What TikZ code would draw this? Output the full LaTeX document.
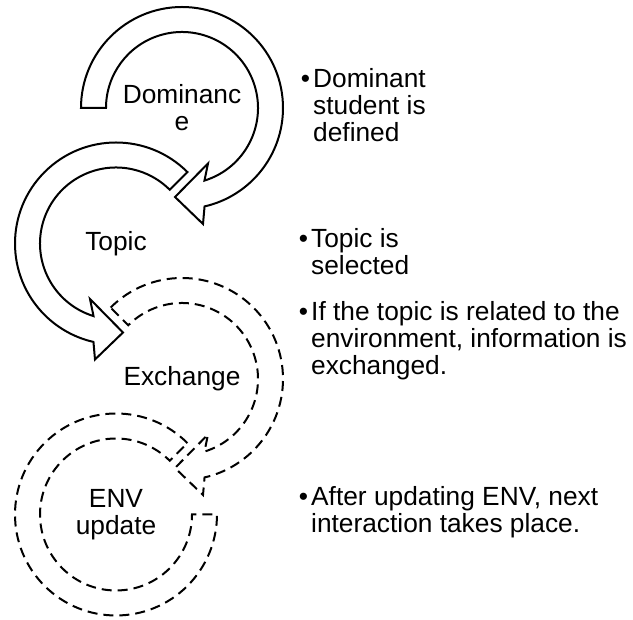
\documentclass[tikz,border=0pt]{standalone}
\usepackage{fontspec}
\setmainfont{Liberation Sans}
\usetikzlibrary{positioning}
\tikzstyle{band} = [draw=black, line width=2pt, fill=white, line join=miter]
\tikzstyle{dashband} = [draw=black, line width=2pt, dash pattern=on 10pt off 6pt]
\tikzstyle{stage} = [align=center, font=\fontsize{26.3}{27}\selectfont, inner sep=0pt]
\tikzstyle{note} = [align=left, font=\fontsize{26.3}{27}\selectfont, inner sep=0pt, anchor=base west]

\begin{document}
\begin{tikzpicture}[x=1pt, y=1pt]
\useasboundingbox (0,0) rectangle (633,620);
% circular arrows
\begin{scope}[shift={(182,512)}]
\draw [band] (180:101) arc[start angle=180, end angle=-77.1, radius=101] -- (21,-116) -- (-7,-89) -- (26,-55.5) -- (-72.8:76) arc[start angle=-72.8, end angle=180, radius=76] -- cycle;
\end{scope}
\begin{scope}[shift={(116,376.5)}, xscale=-1]
\draw [band] (135:101) arc[start angle=135, end angle=-77.1, radius=101] -- (21,-116) -- (-7,-89) -- (26,-55.5) -- (-72.8:76) arc[start angle=-72.8, end angle=135, radius=76] -- cycle;
\end{scope}
\begin{scope}[shift={(182,241)}]
\draw [dashband] (135:101) arc[start angle=135, end angle=-77.1, radius=101] -- (21,-116) -- (-7,-89) -- (26,-55.5) -- (-72.8:76) arc[start angle=-72.8, end angle=135, radius=76] -- cycle;
\end{scope}
\begin{scope}[shift={(116,105.5)}, xscale=-1]
\draw [dashband] (135:101) arc[start angle=135, end angle=-180, radius=101] -- (-180:76) arc[start angle=-180, end angle=135, radius=76] -- cycle;
\end{scope}

\node (dom) [stage] at (182,512) {Dominanc\\e};
\node (topic) [stage] at (116,376.5) {Topic};
\node (exch) [stage] at (182,241) {Exchange};
\node (env) [stage] at (116,105.5) {ENV\\update};

% descriptions (base = last line)
\node (domtxt) [note] at (313,478) {\llap{\textbullet\hspace{3pt}}Dominant\\student is\\defined};
\node (topictxt) [note] at (311,345) {\llap{\textbullet\hspace{3pt}}Topic is\\selected};
\node (exchtxt) [note] at (311,245) {\llap{\textbullet\hspace{3pt}}If the topic is related to the\\environment, information is\\exchanged.};
\node (envtxt) [note] at (311,87) {\llap{\textbullet\hspace{3pt}}After updating ENV, next\\interaction takes place.};
\end{tikzpicture}
\end{document}
